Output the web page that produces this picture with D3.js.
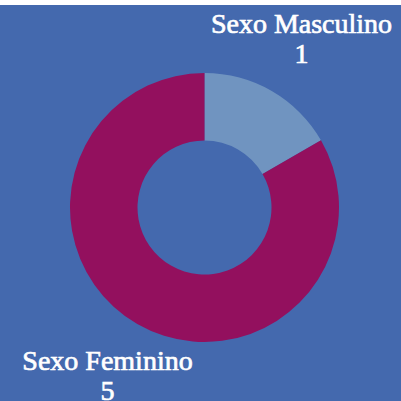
<!DOCTYPE html>
<html lang="pt">
<head>
    <meta charset="UTF-8">
    <title>Sexo</title>
    <script src="https://d3js.org/d3.v7.min.js"></script>
    <style>
        body { margin: 0; background: white; }
        svg { display: block; }
        .label { font-family: "Liberation Serif", "Times New Roman", serif; font-weight: normal; font-size: 28px; fill: white; stroke: white; stroke-width: 0.7px; }
    </style>
</head>
<body>
    <div id="chart"></div>
    <script>
        // data
        const categories = ["Sexo Masculino", "Sexo Feminino"];
        const values = [1, 5];
        const colors = ["#7094c0", "#93105e"];

        const width = 401, height = 401;
        const bandTop = 5; // white strip above the chart area
        const cx = 204.5, cy = 207.5;
        const outerR = 134.5, innerR = 67;
        const labelR = 194;

        const svg = d3.select("#chart")
            .append("svg")
            .attr("width", width)
            .attr("height", height);

        svg.append("rect")
            .attr("x", 0)
            .attr("y", bandTop)
            .attr("width", width)
            .attr("height", height - bandTop)
            .attr("fill", "#4469ae");

        const g = svg.append("g")
            .attr("transform", `translate(${cx},${cy})`);

        const pie = d3.pie().sort(null).value(d => d.value);
        const data = categories.map((c, i) => ({ name: c, value: values[i], color: colors[i] }));
        const arcs = pie(data);

        const arc = d3.arc().innerRadius(innerR).outerRadius(outerR);
        const labelArc = d3.arc().innerRadius(labelR).outerRadius(labelR);

        g.selectAll(".slice")
            .data(arcs)
            .enter()
            .append("path")
            .attr("class", "slice")
            .attr("d", arc)
            .attr("fill", d => d.data.color);

        // labels: two lines, centered on mid angle
        const labels = g.selectAll(".label")
            .data(arcs)
            .enter()
            .append("text")
            .attr("class", "label")
            .attr("text-anchor", "middle")
            .attr("transform", d => {
                const [x, y] = labelArc.centroid(d);
                return `translate(${x},${y})`;
            });

        labels.append("tspan")
            .attr("x", 0)
            .attr("y", -6)
            .text(d => d.data.name);

        labels.append("tspan")
            .attr("x", 0)
            .attr("y", 24)
            .text(d => d.data.value);
    </script>
</body>
</html>
